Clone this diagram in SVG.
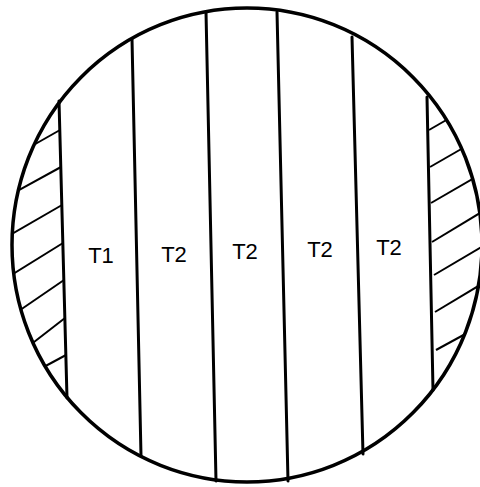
<svg xmlns="http://www.w3.org/2000/svg" width="480" height="487" viewBox="0 0 480 487">
<style>
.o{fill:none;stroke:#000;stroke-width:3.5}
.d{fill:none;stroke:#000;stroke-width:3;stroke-linecap:round}
.h{fill:none;stroke:#000;stroke-width:2}
text{font-family:"Liberation Sans",Arial,sans-serif;font-size:22px;fill:#000;text-anchor:middle}
</style>
<defs>
<clipPath id="c"><ellipse cx="247" cy="245" rx="235" ry="237"/></clipPath>
</defs>
<g id="outline"><ellipse class="o" cx="247" cy="245" rx="235" ry="237"/></g>
<g id="dividers">
<line class="d" x1="59" y1="101" x2="67" y2="398"/>
<line class="d" x1="132" y1="39" x2="141" y2="456"/>
<line class="d" x1="206" y1="12" x2="216" y2="481"/>
<line class="d" x1="277" y1="12" x2="288" y2="481"/>
<line class="d" x1="352" y1="37" x2="363" y2="454"/>
<line class="d" x1="427" y1="97" x2="433" y2="390"/>
</g>
<g id="hatch-left" clip-path="url(#c)">
<line class="h" x1="30" y1="147" x2="60" y2="130"/>
<line class="h" x1="10" y1="195" x2="61" y2="167"/>
<line class="h" x1="5" y1="238" x2="62" y2="205"/>
<line class="h" x1="5" y1="279" x2="63" y2="243"/>
<line class="h" x1="10" y1="317" x2="64" y2="280"/>
<line class="h" x1="25" y1="349" x2="65" y2="318"/>
<line class="h" x1="40" y1="369" x2="66" y2="355"/>
</g>
<g id="hatch-right" clip-path="url(#c)">
<line class="h" x1="429" y1="130" x2="455" y2="115"/>
<line class="h" x1="430" y1="167" x2="470" y2="144"/>
<line class="h" x1="431" y1="203" x2="481" y2="174"/>
<line class="h" x1="432" y1="242" x2="485" y2="210"/>
<line class="h" x1="434" y1="275" x2="485" y2="245"/>
<line class="h" x1="435" y1="312" x2="485" y2="282"/>
<line class="h" x1="436" y1="350" x2="480" y2="326"/>
</g>
<g id="labels">
<text x="101" y="263">T1</text>
<text x="174" y="262">T2</text>
<text x="245" y="259">T2</text>
<text x="320" y="257">T2</text>
<text x="389" y="255">T2</text>
</g>
</svg>
